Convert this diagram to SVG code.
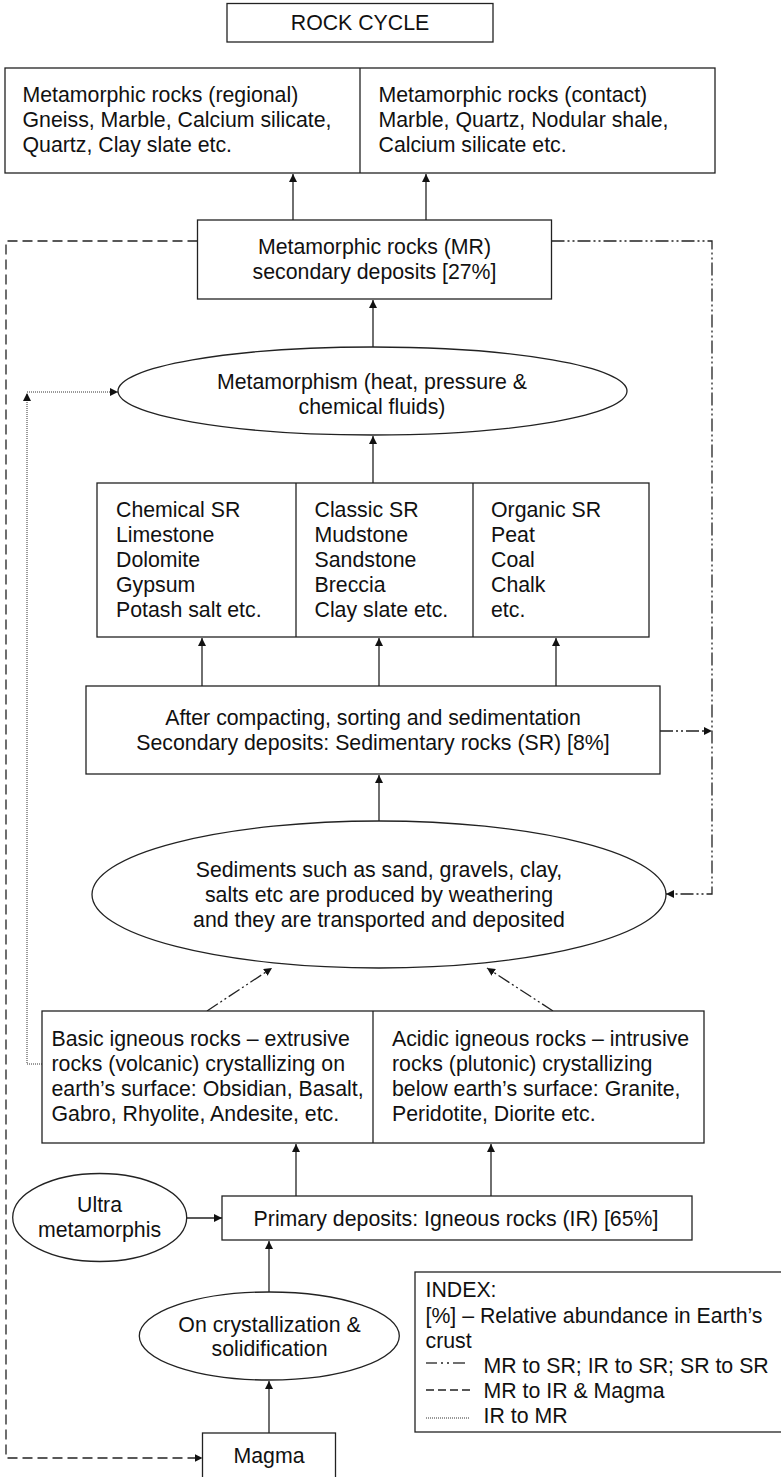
<svg xmlns="http://www.w3.org/2000/svg" width="781" height="1477" viewBox="0 0 781 1477">
<style>
.b{fill:#fff;stroke:#222;stroke-width:1.3}
.t{font-family:"Liberation Sans",Arial,sans-serif;font-size:21.3px;fill:#111}
.m{text-anchor:middle}
.c{fill:none;stroke:#222;stroke-width:1.3}
.dd{fill:none;stroke:#222;stroke-width:1.3;stroke-dasharray:13 3 2 3 2 3}
.da{fill:none;stroke:#222;stroke-width:1.3;stroke-dasharray:10 5}
.dt{fill:none;stroke:#333;stroke-width:1;stroke-dasharray:1 1}
</style>
<defs>
<marker id="ah" markerUnits="userSpaceOnUse" markerWidth="9" markerHeight="8" refX="8" refY="4" orient="auto"><path d="M0,0 L8,4 L0,8 z" fill="#111"/></marker>
</defs>
<g id="connectors">
<line class="c" x1="293" y1="220" x2="293" y2="174" marker-end="url(#ah)"/>
<line class="c" x1="426" y1="220" x2="426" y2="174" marker-end="url(#ah)"/>
<line class="c" x1="373" y1="347" x2="373" y2="300" marker-end="url(#ah)"/>
<line class="c" x1="373" y1="483" x2="373" y2="436" marker-end="url(#ah)"/>
<line class="c" x1="202" y1="686" x2="202" y2="638" marker-end="url(#ah)"/>
<line class="c" x1="379" y1="686" x2="379" y2="638" marker-end="url(#ah)"/>
<line class="c" x1="556" y1="686" x2="556" y2="638" marker-end="url(#ah)"/>
<line class="c" x1="379" y1="821" x2="379" y2="775" marker-end="url(#ah)"/>
<line class="dd" x1="207" y1="1011" x2="272" y2="968" marker-end="url(#ah)"/>
<line class="dd" x1="553" y1="1011" x2="487" y2="968" marker-end="url(#ah)"/>
<line class="c" x1="296" y1="1196" x2="296" y2="1144" marker-end="url(#ah)"/>
<line class="c" x1="491" y1="1196" x2="491" y2="1144" marker-end="url(#ah)"/>
<line class="c" x1="187" y1="1218" x2="222" y2="1218" marker-end="url(#ah)"/>
<line class="c" x1="269" y1="1292" x2="269" y2="1241" marker-end="url(#ah)"/>
<line class="c" x1="269" y1="1433" x2="269" y2="1381" marker-end="url(#ah)"/>
<polyline class="da" points="197.5,241 6,241 6,1458 202.5,1458" marker-end="url(#ah)"/>
<polyline class="dd" points="551.5,241 712,241 712,894 666,894" marker-end="url(#ah)"/>
<line class="dd" x1="660" y1="731" x2="712" y2="731" marker-end="url(#ah)"/>
<polyline class="dt" points="42,1064 27,1064 27,393" marker-end="url(#ah)"/>
<line class="dt" x1="27" y1="392" x2="118" y2="392" marker-end="url(#ah)"/>
</g>
<g id="title">
<rect class="b" x="227" y="3.5" width="266" height="38.5"/>
<text class="t m" x="360" y="30">ROCK CYCLE</text>
</g>
<g id="mr-types">
<rect class="b" x="5" y="68" width="710" height="105"/>
<line class="c" x1="360" y1="68" x2="360" y2="173"/>
<text class="t" x="22.5" y="102">Metamorphic rocks (regional)</text>
<text class="t" x="22.5" y="127">Gneiss, Marble, Calcium silicate,</text>
<text class="t" x="22.5" y="152">Quartz, Clay slate etc.</text>
<text class="t" x="378.5" y="102">Metamorphic rocks (contact)</text>
<text class="t" x="378.5" y="127">Marble, Quartz, Nodular shale,</text>
<text class="t" x="378.5" y="152">Calcium silicate etc.</text>
</g>
<g id="mr">
<rect class="b" x="197.5" y="220" width="354" height="79"/>
<text class="t m" x="374.5" y="254">Metamorphic rocks (MR)</text>
<text class="t m" x="374.5" y="279">secondary deposits [27%]</text>
</g>
<g id="metamorphism">
<ellipse class="b" cx="372.5" cy="391" rx="254.5" ry="44"/>
<text class="t m" x="372" y="389">Metamorphism (heat, pressure &amp;</text>
<text class="t m" x="372" y="414">chemical fluids)</text>
</g>
<g id="sr-types">
<rect class="b" x="97" y="483" width="552" height="154"/>
<line class="c" x1="296" y1="483" x2="296" y2="637"/>
<line class="c" x1="473" y1="483" x2="473" y2="637"/>
<text class="t" x="116" y="517">Chemical SR</text>
<text class="t" x="116" y="542">Limestone</text>
<text class="t" x="116" y="567">Dolomite</text>
<text class="t" x="116" y="592">Gypsum</text>
<text class="t" x="116" y="617">Potash salt etc.</text>
<text class="t" x="314.5" y="517">Classic SR</text>
<text class="t" x="314.5" y="542">Mudstone</text>
<text class="t" x="314.5" y="567">Sandstone</text>
<text class="t" x="314.5" y="592">Breccia</text>
<text class="t" x="314.5" y="617">Clay slate etc.</text>
<text class="t" x="491" y="517">Organic SR</text>
<text class="t" x="491" y="542">Peat</text>
<text class="t" x="491" y="567">Coal</text>
<text class="t" x="491" y="592">Chalk</text>
<text class="t" x="491" y="617">etc.</text>
</g>
<g id="sr">
<rect class="b" x="86" y="686" width="574" height="88"/>
<text class="t m" x="373" y="725">After compacting, sorting and sedimentation</text>
<text class="t m" x="373" y="750">Secondary deposits: Sedimentary rocks (SR) [8%]</text>
</g>
<g id="sediments">
<ellipse class="b" cx="379" cy="894.5" rx="287" ry="73.5"/>
<text class="t m" x="379" y="877">Sediments such as sand, gravels, clay,</text>
<text class="t m" x="379" y="902">salts etc are produced by weathering</text>
<text class="t m" x="379" y="927">and they are transported and deposited</text>
</g>
<g id="igneous-types">
<rect class="b" x="42" y="1011" width="662" height="132"/>
<line class="c" x1="373" y1="1011" x2="373" y2="1143"/>
<text class="t" x="51.5" y="1046">Basic igneous rocks – extrusive</text>
<text class="t" x="51.5" y="1071">rocks (volcanic) crystallizing on</text>
<text class="t" x="51.5" y="1096">earth’s surface: Obsidian, Basalt,</text>
<text class="t" x="51.5" y="1121">Gabro, Rhyolite, Andesite,  etc.</text>
<text class="t" x="392" y="1046">Acidic igneous rocks – intrusive</text>
<text class="t" x="392" y="1071">rocks (plutonic) crystallizing</text>
<text class="t" x="392" y="1096">below earth’s surface: Granite,</text>
<text class="t" x="392" y="1121">Peridotite, Diorite etc.</text>
</g>
<g id="ultra">
<ellipse class="b" cx="99.7" cy="1217.5" rx="87" ry="44"/>
<text class="t m" x="99.5" y="1212">Ultra</text>
<text class="t m" x="99.5" y="1237">metamorphis</text>
</g>
<g id="primary">
<rect class="b" x="222" y="1196" width="470" height="44"/>
<text class="t m" x="456" y="1226">Primary deposits: Igneous rocks (IR) [65%]</text>
</g>
<g id="crystallization">
<ellipse class="b" cx="269.3" cy="1336" rx="130" ry="44"/>
<text class="t m" x="269.5" y="1332">On crystallization &amp;</text>
<text class="t m" x="269.5" y="1356">solidification</text>
</g>
<g id="magma">
<rect class="b" x="202.5" y="1433" width="133" height="50"/>
<text class="t m" x="269" y="1463">Magma</text>
</g>
<g id="index">
<rect class="b" x="415" y="1272" width="368" height="160"/>
<text class="t" x="425.5" y="1297">INDEX:</text>
<text class="t" x="425.5" y="1323">[%] – Relative abundance in Earth’s</text>
<text class="t" x="425.5" y="1348">crust</text>
<line class="c" x1="426" y1="1363" x2="437" y2="1363"/>
<line class="c" x1="441" y1="1363" x2="443" y2="1363"/>
<line class="c" x1="447" y1="1363" x2="449" y2="1363"/>
<line class="c" x1="453" y1="1363" x2="472" y2="1363" style="stroke-dasharray:12 30"/>
<text class="t" x="483.5" y="1373">MR to SR; IR to SR; SR to SR</text>
<line class="da" x1="426" y1="1390" x2="472" y2="1390" style="stroke-dasharray:8 4"/>
<text class="t" x="483.5" y="1398">MR to IR &amp; Magma</text>
<line class="dt" x1="426" y1="1418" x2="470" y2="1418"/>
<text class="t" x="483.5" y="1423">IR to MR</text>
</g>
</svg>
